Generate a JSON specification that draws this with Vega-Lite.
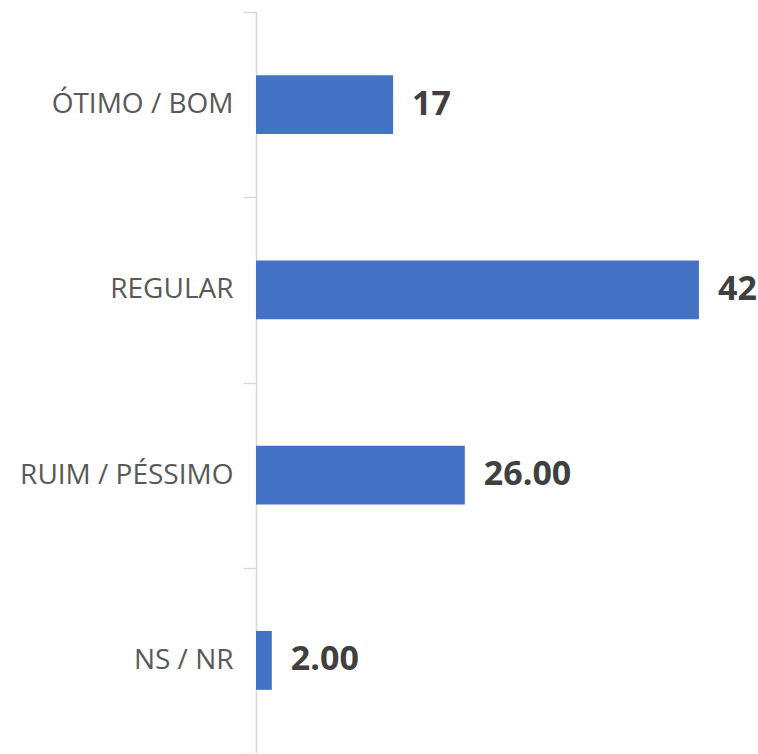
{
  "$schema": "https://vega.github.io/schema/vega-lite/v6.json",
  "autosize": {"type": "none"},
  "padding": {"left": 256, "top": 12, "right": 0, "bottom": 0},
  "width": 502,
  "height": 741,
  "background": "white",
  "config": {"view": {"stroke": null}},
  "data": {
    "values": [
      {"categoria": "ÓTIMO / BOM", "valor": 13, "rotulo": "17"},
      {"categoria": "REGULAR", "valor": 42, "rotulo": "42"},
      {"categoria": "RUIM / PÉSSIMO", "valor": 19.8, "rotulo": "26.00"},
      {"categoria": "NS / NR", "valor": 1.5, "rotulo": "2.00"}
    ]
  },
  "encoding": {
    "y": {
      "field": "categoria",
      "type": "nominal",
      "sort": null,
      "title": null,
      "scale": {"paddingInner": 0, "paddingOuter": 0},
      "axis": {
        "tickBand": "extent",
        "domainColor": "#d9d9d9",
        "domainWidth": 1.5,
        "tickColor": "#d9d9d9",
        "tickWidth": 1.5,
        "tickSize": 13,
        "labelPadding": 10,
        "labelLimit": 0,
        "labelFont": "Open Sans",
        "labelFontSize": 28,
        "labelColor": "#595959",
        "grid": false
      }
    },
    "x": {
      "field": "valor",
      "type": "quantitative",
      "scale": {"domain": [0, 47.6]},
      "axis": null
    }
  },
  "layer": [
    {"mark": {"type": "bar", "color": "#4472c4", "height": {"band": 0.318}}},
    {
      "mark": {"type": "text", "align": "left", "baseline": "middle", "dx": 19, "font": "Open Sans", "fontSize": 34, "fontWeight": "bold", "color": "#404040"},
      "encoding": {"text": {"field": "rotulo"}}
    }
  ]
}
